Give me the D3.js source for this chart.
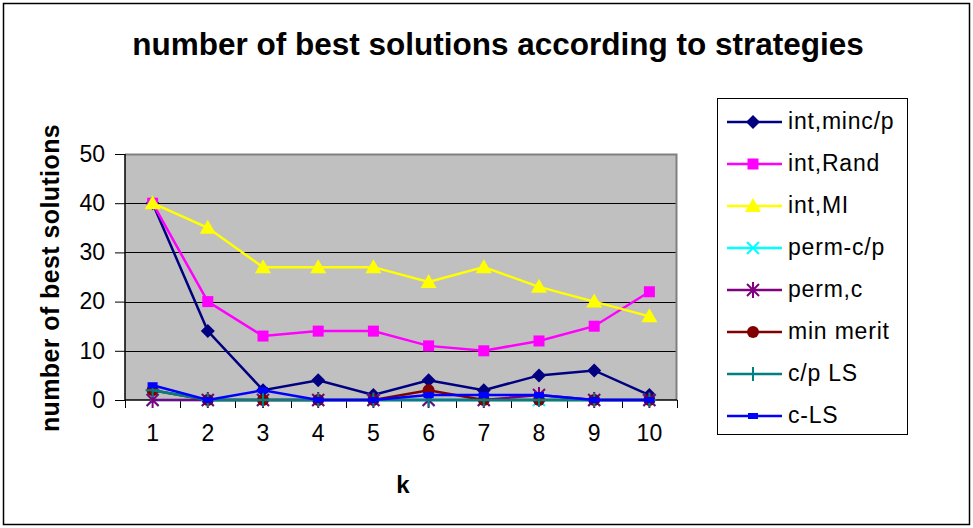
<!DOCTYPE html>
<html><head><meta charset="utf-8">
<script src="https://cdn.jsdelivr.net/npm/d3@7"></script>
<style>body{margin:0;background:#fff}svg{display:block;font-family:"Liberation Sans",Arial,sans-serif}</style>
</head><body><svg id="c" width="973" height="528"></svg>
<script>
const categories = ["1","2","3","4","5","6","7","8","9","10"];
const yTicks = [0,10,20,30,40,50];
const seriesNames = ["int,minc/p","int,Rand","int,MI","perm-c/p","perm,c","min merit","c/p LS","c-LS"];
const intMincP  = [40,14,2,4,1,4,2,5,6,1];
const intRand   = [40,20,13,14,14,11,10,12,15,22];
const intMI     = [40,35,27,27,27,24,27,23,20,17];
const permCP    = [0,0,0,0,0,0,0,0,0,0];
const permC     = [0,0,0,0,0,0,0,1,0,0];
const minMerit  = [2,0,0,0,0,2,0,0,0,0];
const cpLS      = [2,0,0,0,0,0,0,0,0,0];
const cLS       = [3,0,2,0,0,1,1,1,0,0];
const seriesValues = [intMincP,intRand,intMI,permCP,permC,minMerit,cpLS,cLS];
const colors = ["#000080","#FF00FF","#FFFF00","#00FFFF","#800080","#800000","#008080","#0000FF"];
const markers = ["diamond","square","triangle","x","star","circle","plus","dash"];

const svg = d3.select("#c");
svg.append("rect").attr("x",3.5).attr("y",3.5).attr("width",966).attr("height",521).attr("fill","#fff").attr("stroke","#000").attr("stroke-width",1.5);

svg.append("text").attr("x",498).attr("y",55).attr("text-anchor","middle")
  .attr("font-size",31.5).attr("font-weight","bold").text("number of best solutions according to strategies");

const L=125,R=677,T=154,B=400;
const x = d3.scaleBand().domain(categories).range([L,R]);
const y = d3.scaleLinear().domain([0,50]).range([B,T]);

svg.append("rect").attr("x",L).attr("y",T).attr("width",R-L).attr("height",B-T).attr("fill","#C0C0C0");
svg.append("g").selectAll("line").data(yTicks.filter(d=>d>0&&d<50)).join("line")
  .attr("x1",L).attr("x2",R).attr("y1",d=>Math.round(y(d))+0.5).attr("y2",d=>Math.round(y(d))+0.5)
  .attr("stroke","#000").attr("stroke-width",1);
svg.append("path").attr("d",`M${L},${T+0.5}H${R-0.5}V${B}`).attr("fill","none").attr("stroke","#808080").attr("stroke-width",2);

const yAxis = d3.axisLeft(y).tickValues(yTicks).tickSize(10).tickPadding(10);
const gy = svg.append("g").attr("transform",`translate(${L},0)`).call(yAxis);
gy.selectAll("text").attr("font-size",23).attr("fill","#000").attr("font-family","Liberation Sans, Arial, sans-serif");
gy.selectAll("line").attr("stroke","#000");
gy.select(".domain").attr("stroke","#000").attr("stroke-width",1.5).attr("d",`M0,${T}V${B}`);

const xAxis = d3.axisBottom(x).tickSize(0).tickPadding(25);
const gx = svg.append("g").attr("transform",`translate(0,${B})`).call(xAxis);
gx.selectAll("text").attr("font-size",23).attr("fill","#000").attr("font-family","Liberation Sans, Arial, sans-serif");
gx.select(".domain").attr("stroke","#000").attr("stroke-width",1.5).attr("d",`M${L},0H${R}`);
const bounds = categories.map(c=>x(c)).concat([R]);
gx.append("g").selectAll("line").data(bounds).join("line")
  .attr("x1",d=>Math.round(d)+0.5).attr("x2",d=>Math.round(d)+0.5).attr("y1",0).attr("y2",8).attr("stroke","#000");

svg.append("text").attr("x",403).attr("y",493).attr("text-anchor","middle").attr("font-size",24).attr("font-weight","bold").text("k");
svg.append("text").attr("transform","translate(59,278) rotate(-90)").attr("text-anchor","middle")
  .attr("font-size",25).attr("font-weight","bold").attr("letter-spacing",0.4).text("number of best solutions");

function drawMarker(g, type, color, cx, cy){
  const s = g.append("g").attr("transform",`translate(${cx},${cy})`);
  if(type==="diamond") s.append("path").attr("d","M0,-7L7,0L0,7L-7,0Z").attr("fill",color);
  else if(type==="square") s.append("rect").attr("x",-5.5).attr("y",-5.5).attr("width",11).attr("height",11).attr("fill",color);
  else if(type==="triangle") s.append("path").attr("d","M0,-8L8,6L-8,6Z").attr("fill",color);
  else if(type==="circle") s.append("circle").attr("r",6).attr("fill",color);
  else if(type==="x") s.append("path").attr("d","M-6,-6L6,6M-6,6L6,-6").attr("stroke",color).attr("stroke-width",2);
  else if(type==="star") s.append("path").attr("d","M-6,-6L6,6M-6,6L6,-6M0,-8V8").attr("stroke",color).attr("stroke-width",2);
  else if(type==="plus") s.append("path").attr("d","M-7,0H7M0,-7V7").attr("stroke",color).attr("stroke-width",2);
  else if(type==="dash") s.append("rect").attr("x",-5).attr("y",-3).attr("width",10).attr("height",6).attr("fill",color);
}

const line = d3.line().x((d,i)=>x(categories[i])+x.bandwidth()/2).y(d=>y(d));
seriesValues.forEach((vals,si)=>{
  const g = svg.append("g");
  g.append("path").attr("d",line(vals)).attr("fill","none").attr("stroke",colors[si]).attr("stroke-width",2.5);
  vals.forEach((v,i)=>drawMarker(g,markers[si],colors[si],x(categories[i])+x.bandwidth()/2,y(v)));
});

const lg = svg.append("g");
lg.append("rect").attr("x",717.5).attr("y",98.5).attr("width",190).attr("height",336).attr("fill","#fff").attr("stroke","#000").attr("stroke-width",1);
seriesNames.forEach((n,i)=>{
  const yy = 122 + i*42;
  lg.append("line").attr("x1",727).attr("x2",782).attr("y1",yy).attr("y2",yy).attr("stroke",colors[i]).attr("stroke-width",2.5);
  drawMarker(lg,markers[i],colors[i],753,yy);
  lg.append("text").attr("x",788).attr("y",yy+7).attr("font-size",23).attr("letter-spacing",0.8).text(n);
});
</script></body></html>
